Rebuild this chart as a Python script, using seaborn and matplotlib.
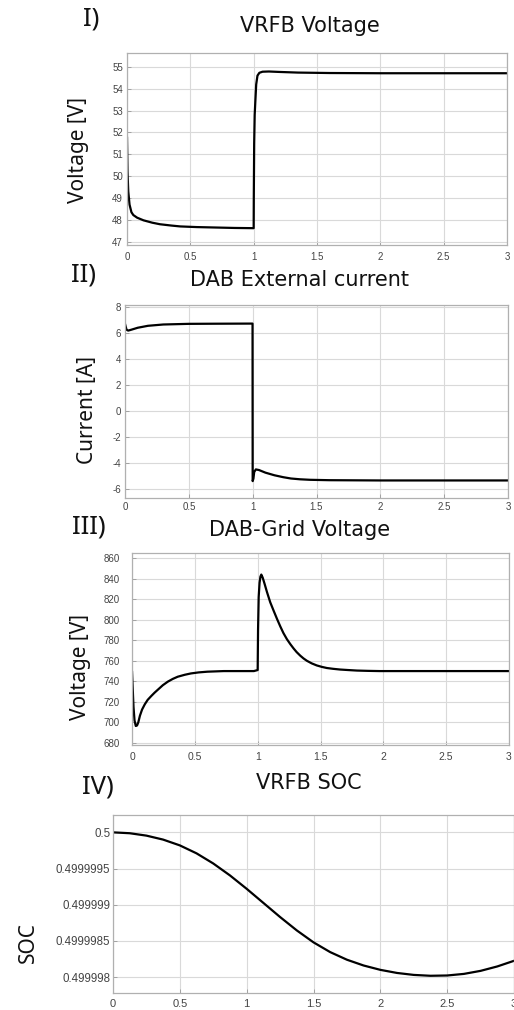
import matplotlib
matplotlib.use("Agg")
import matplotlib.pyplot as plt
import seaborn as sns
from matplotlib.ticker import FuncFormatter, FixedLocator

# ---------------- data ----------------
t_vrfb = [0, 0.004, 0.01, 0.02, 0.035, 0.05, 0.08, 0.13, 0.2, 0.26, 0.35, 0.42, 0.55, 0.7, 0.85, 1.0,
          1.001, 1.004, 1.008, 1.013, 1.02, 1.03, 1.045, 1.07, 1.12, 1.2, 1.35, 1.6, 2.0, 2.5, 3.0]
v_vrfb = [51.8, 50.2, 49.3, 48.7, 48.35, 48.22, 48.1, 47.98, 47.87, 47.8, 47.74, 47.7, 47.67, 47.65, 47.63, 47.62,
          49.0, 51.5, 52.8, 53.4, 54.2, 54.6, 54.73, 54.78, 54.79, 54.77, 54.74, 54.72, 54.71, 54.71, 54.71]

t_cur = [0, 0.005, 0.012, 0.025, 0.05, 0.1, 0.18, 0.3, 0.5, 0.7, 0.999,
         1.0, 1.006, 1.012, 1.025, 1.05, 1.1, 1.17, 1.24, 1.3, 1.37, 1.45, 1.6, 2.0, 3.0]
i_cur = [6.7, 6.5, 6.25, 6.18, 6.25, 6.4, 6.55, 6.65, 6.7, 6.71, 6.72,
         -5.4, -5.2, -4.7, -4.5, -4.55, -4.75, -4.95, -5.1, -5.2, -5.26, -5.3, -5.33, -5.35, -5.35]

t_grid = [0, 0.005, 0.012, 0.02, 0.03, 0.04, 0.05, 0.063, 0.08, 0.102, 0.125, 0.154, 0.18, 0.207,
          0.245, 0.285, 0.325, 0.364, 0.42, 0.469, 0.53, 0.6, 0.73, 0.97,
          1.0, 1.003, 1.008, 1.015, 1.022, 1.029, 1.04, 1.055, 1.074, 1.1, 1.127, 1.155, 1.18, 1.205,
          1.233, 1.26, 1.286, 1.31, 1.339, 1.365, 1.392, 1.43, 1.47, 1.51, 1.55, 1.6, 1.656, 1.72,
          1.79, 1.88, 1.97, 2.3, 2.7, 3.0]
v_grid = [750, 735, 715, 702, 696.5, 697, 700, 706.5, 712.5, 717.7, 722, 725.8, 729, 732,
          736.2, 739.7, 742.4, 744.5, 746.4, 747.7, 748.7, 749.4, 750, 750,
          751, 790, 822, 836, 842, 844, 841, 835, 827, 817, 808.8, 800.5, 793.5, 787,
          781, 776.2, 772, 768.5, 765, 762.3, 760, 757.5, 755.5, 754.1, 753, 752.2, 751.5, 751,
          750.5, 750.2, 750, 750, 750, 750]

t_soc = [0, 0.125, 0.25, 0.375, 0.5, 0.625, 0.75, 0.875, 1.0, 1.125, 1.25, 1.375, 1.5, 1.625,
         1.75, 1.875, 2.0, 2.125, 2.25, 2.375, 2.5, 2.625, 2.75, 2.875, 3.0]
soc = [0.5, 0.499999988, 0.499999955, 0.4999999, 0.49999982, 0.49999971, 0.49999957,
       0.499999405, 0.49999922, 0.499999025, 0.49999883, 0.499998645, 0.49999848, 0.499998345,
       0.49999824, 0.49999816, 0.4999981, 0.499998057, 0.49999803, 0.499998018, 0.499998022,
       0.499998044, 0.499998086, 0.499998147, 0.499998225]

x_ticks = [0, 0.5, 1, 1.5, 2, 2.5, 3]
x_ticklabels = ["0", "0.5", "1", "1.5", "2", "2.5", "3"]
yt_vrfb = [47, 48, 49, 50, 51, 52, 53, 54, 55]
yt_cur = [-6, -4, -2, 0, 2, 4, 6, 8]
yt_grid = [680, 700, 720, 740, 760, 780, 800, 820, 840, 860]
yt_soc = [0.499998, 0.4999985, 0.499999, 0.4999995, 0.5]

titles = ["VRFB Voltage", "DAB External current", "DAB-Grid Voltage", "VRFB SOC"]
numerals = ["I)", "II)", "III)", "IV)"]
ylabels = ["Voltage [V]", "Current [A]", "Voltage [V]", "SOC"]

# ---------------- style ----------------
sns.set_theme(style="whitegrid")
plt.rcParams["font.family"] = ["Noto Sans", "DejaVu Sans"]

W, H = 514, 1010
fig = plt.figure(figsize=(W / 100, H / 100), dpi=100)
fig.patch.set_facecolor("white")

def rect(l, r, top, bot):
    return [l / W, 1 - bot / H, (r - l) / W, (bot - top) / H]

panels = [
    dict(box=rect(127, 507, 52.7, 245), t=t_vrfb, y=v_vrfb, ylim=(46.85, 55.65), yt=yt_vrfb,
         ypad=3, xpad=5, ysz=7, xsz=7, title_xy=(310, 32), num_xy=(91, 26), ylab_xy=(89, 150)),
    dict(box=rect(125, 508, 305, 498), t=t_cur, y=i_cur, ylim=(-6.7, 8.15), yt=yt_cur,
         ypad=3, xpad=3, ysz=7, xsz=7, title_xy=(299, 286), num_xy=(84, 281), ylab_xy=(98, 410)),
    dict(box=rect(132, 509, 553, 745), t=t_grid, y=v_grid, ylim=(678, 865), yt=yt_grid,
         ypad=9, xpad=5, ysz=7, xsz=7.5, title_xy=(300, 536), num_xy=(89, 534), ylab_xy=(91, 667)),
    dict(box=rect(113, 514, 815, 993), t=t_soc, y=soc, ylim=(0.49999778, 0.50000024), yt=yt_soc,
         ypad=2, xpad=4, ysz=8.3, xsz=8, title_xy=(309, 789), num_xy=(98, 794), ylab_xy=(39, 943)),
]

soc_fmt = FuncFormatter(lambda v, p: f"{v:.7f}".rstrip("0").rstrip("."))

for k, p in enumerate(panels):
    ax = fig.add_axes(p["box"])
    ax.set_facecolor("white")
    sns.lineplot(x=p["t"], y=p["y"], ax=ax, color="black", linewidth=1.6,
                 estimator=None, sort=False)
    ax.set_xlim(0, 3)
    ax.set_ylim(*p["ylim"])
    ax.set_xticks(x_ticks)
    ax.set_xticklabels(x_ticklabels)
    ax.yaxis.set_major_locator(FixedLocator(p["yt"]))
    if k == 3:
        ax.yaxis.set_major_formatter(soc_fmt)
    else:
        ax.set_yticklabels([f"{v:g}" for v in p["yt"]])
    ax.grid(True, color="#d9d9d9", linewidth=0.8)
    for s in ax.spines.values():
        s.set_color("#b0b0b0")
        s.set_linewidth(0.9)
    ax.tick_params(axis="both", direction="in", length=3, width=0.6, color="#999999",
                   labelcolor="#444444")
    ax.tick_params(axis="y", pad=p["ypad"], left=True, labelsize=p["ysz"])
    ax.tick_params(axis="x", pad=p["xpad"], bottom=True, labelsize=p["xsz"])
    for lab in ax.get_xticklabels() + ax.get_yticklabels():
        lab.set_family(["Liberation Sans", "DejaVu Sans"])
    ax.set_xlabel("")
    ax.set_ylabel(ylabels[k], fontsize=15, color="#111111")
    lx, ly = p["ylab_xy"]
    bl, bb, bw, bh = p["box"]
    ax.yaxis.set_label_coords((lx / W - bl) / bw, ((1 - ly / H) - bb) / bh)

    tx, ty = p["title_xy"]
    fig.text(tx / W, 1 - ty / H, titles[k], fontsize=15, ha="center", va="baseline",
             color="#111111", family=["DejaVu Sans"])
    nx, ny = p["num_xy"]
    fig.text(nx / W, 1 - ny / H, numerals[k], fontsize=18.5, ha="center", va="baseline",
             color="#111111")

fig.savefig("out.png", dpi=100, facecolor="white")
